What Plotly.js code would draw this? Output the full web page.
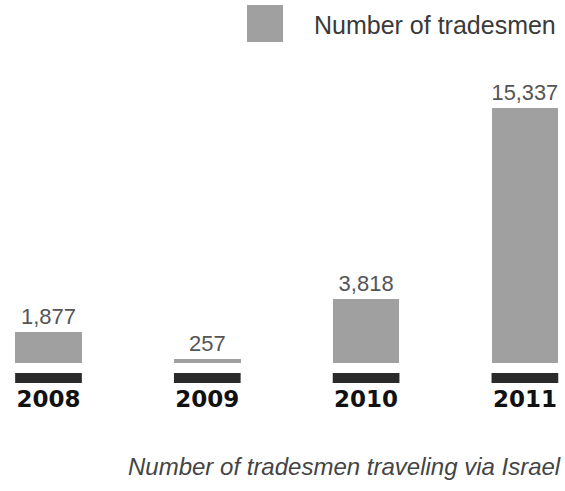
<!DOCTYPE html>
<html>
<head>
<meta charset="utf-8">
<script src="https://cdn.plot.ly/plotly-3.0.1.min.js"></script>
<style>html,body{margin:0;padding:0;background:#fff;}#chart{width:565px;height:491px;}</style>
</head>
<body>
<div id="chart"></div>
<script>
const years = ["2008", "2009", "2010", "2011"];
const tradesmen = [1877, 257, 3818, 15337];
const valueLabels = ["1,877", "257", "3,818", "15,337"];
const seriesName = "Number of tradesmen";
const caption = "Number of tradesmen traveling via Israel";

const W = 565, H = 491;
const margin = {l: 0, r: 0, t: 80, b: 128};
const plotH = H - margin.t - margin.b;
const plotW = W - margin.l - margin.r;
const xRange = [-0.3054, 3.2526];
const barWidth = 0.42;

// helpers converting pixel positions of decorations to paper coordinates
const px = x => (x - margin.l) / plotW;
const py = y => (H - margin.b - y) / plotH;

const trace = {
  type: "bar",
  x: years.map((_, i) => i),
  y: tradesmen,
  width: barWidth,
  name: seriesName,
  marker: {color: "#a0a0a0", line: {width: 0}},
  text: valueLabels,
  textposition: "outside",
  textfont: {family: "Liberation Sans, Arial, sans-serif", size: 22, color: "#555555"},
  cliponaxis: false,
  hoverinfo: "skip",
  showlegend: false
};

// dark base strips under each bar (decorative, placed from the categories)
const shapes = years.map((_, i) => ({
  type: "rect", xref: "x", yref: "paper",
  x0: i - barWidth / 2, x1: i + barWidth / 2,
  y0: py(H - margin.b + 10), y1: py(H - margin.b + 20),
  fillcolor: "#2a2a2a", line: {width: 0}
}));
// legend swatch
shapes.push({
  type: "rect", xref: "paper", yref: "paper",
  x0: px(247), x1: px(283), y0: py(5), y1: py(42),
  fillcolor: "#a0a0a0", line: {width: 0}
});

const layout = {
  width: W, height: H,
  margin: margin,
  paper_bgcolor: "#ffffff", plot_bgcolor: "#ffffff",
  showlegend: false,
  bargap: 0,
  xaxis: {
    range: xRange, tickmode: "array",
    tickvals: years.map((_, i) => i), ticktext: years,
    showgrid: false, zeroline: false, showline: false,
    ticks: "outside", ticklen: 15, tickcolor: "rgba(0,0,0,0)",
    tickfont: {family: "DejaVu Sans, sans-serif", size: 23, color: "#111111", weight: "bold"},
    fixedrange: true
  },
  yaxis: {
    range: [0, 17000], visible: false, showgrid: false, zeroline: false, fixedrange: true
  },
  shapes: shapes,
  annotations: [
    {
      xref: "paper", yref: "paper",
      x: px(558), y: py(25),
      xanchor: "right", yanchor: "middle", showarrow: false,
      text: seriesName,
      font: {family: "Liberation Sans, Arial, sans-serif", size: 25, color: "#3a3a3a"}
    },
    {
      xref: "paper", yref: "paper",
      x: px(563), y: py(466),
      xanchor: "right", yanchor: "middle", showarrow: false,
      text: "<i>" + caption + "</i>",
      font: {family: "Liberation Sans, Arial, sans-serif", size: 24, color: "#444444"}
    }
  ]
};

Plotly.newPlot("chart", [trace], layout, {displayModeBar: false, staticPlot: true});
</script>
</body>
</html>
